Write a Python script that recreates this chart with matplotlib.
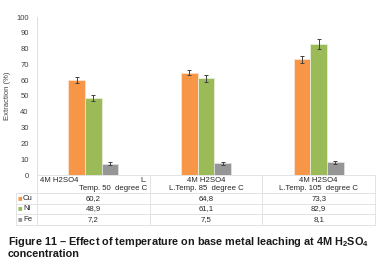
import numpy as np
import matplotlib.pyplot as plt

plt.rcParams['font.family'] = ['Liberation Sans', 'DejaVu Sans']
plt.rcParams['mathtext.fontset'] = 'custom'
plt.rcParams['mathtext.rm'] = 'Liberation Sans:bold'
plt.rcParams['mathtext.bf'] = 'Liberation Sans:bold'

# data
metals = ['Cu', 'Ni', 'Fe']
cat_line1 = ['4M H2SO4', '4M H2SO4', '4M H2SO4']
cat_line2 = ['Temp. 50  degree C', 'L.Temp. 85  degree C', 'L.Temp. 105  degree C']
cu = [60.2, 64.8, 73.3]
ni = [48.9, 61.1, 82.9]
fe = [7.2, 7.5, 8.1]
cu_err = [1.8, 1.8, 2.3]
ni_err = [2.0, 2.3, 3.0]
fe_err = [1.0, 1.0, 1.0]
colors = ['#F79646', '#9BBB59', '#969696']
edges = ['#FBE3D0', '#E6EED8', '#E0E0E0']

W, H = 382, 273
fig = plt.figure(figsize=(W / 100, H / 100), dpi=100)

def fx(px):
    return px / W

def fy(py):
    return 1 - py / H

# plot area in pixels
x0, x1 = 37, 375
ytop, ybot = 17, 175
ax = fig.add_axes([fx(x0), fy(ybot), fx(x1 - x0), (ybot - ytop) / H])

x = np.arange(3)
w = 0.148
for i, (vals, errs) in enumerate([(cu, cu_err), (ni, ni_err), (fe, fe_err)]):
    ax.bar(x + (i - 1) * w, vals, w, color=colors[i], edgecolor=edges[i], linewidth=0.6,
           yerr=errs, error_kw=dict(ecolor='#404040', elinewidth=0.7, capsize=1.6, capthick=0.7))

ax.set_xlim(-0.5, 2.5)
ax.set_ylim(0, 100)
ax.set_yticks(range(0, 101, 10))
ax.set_xticks([])
ax.tick_params(axis='y', length=0, labelsize=5.5, labelcolor='#404040', pad=6)
for s in ['top', 'right', 'bottom']:
    ax.spines[s].set_visible(False)
ax.spines['left'].set_color('#D9D9D9')
ax.spines['left'].set_linewidth(0.6)
ax.set_ylabel('Extraction (%)', fontsize=5.5, color='#404040', labelpad=4)

# table below the axes
lc = '#E3E3E3'
tl = 16
rows_y = [175, 193, 204, 214, 225]
col_x = [x0 + (x1 - x0) * k / 3 for k in range(4)]
for yy in rows_y:
    left = x0 if yy == rows_y[0] else tl
    fig.add_artist(plt.Line2D([fx(left), fx(x1)], [fy(yy), fy(yy)], color=lc, lw=0.7))
for xx in col_x:
    fig.add_artist(plt.Line2D([fx(xx), fx(xx)], [fy(175), fy(225)], color=lc, lw=0.7))
fig.add_artist(plt.Line2D([fx(tl), fx(tl)], [fy(193), fy(225)], color=lc, lw=0.7))

fs = 5.6
tc = '#262626'
# header cells
fig.text(fx(col_x[0] + 3), fy(180), cat_line1[0], fontsize=fs, color=tc, va='center', ha='left')
fig.text(fx(col_x[1] - 3), fy(180), 'L.', fontsize=fs, color=tc, va='center', ha='right')
fig.text(fx(col_x[1] - 3), fy(188), cat_line2[0], fontsize=fs, color=tc, va='center', ha='right')
for k in range(1, 3):
    cx = (col_x[k] + col_x[k + 1]) / 2
    fig.text(fx(cx), fy(180), cat_line1[k], fontsize=fs, color=tc, va='center', ha='center')
    fig.text(fx(cx), fy(188), cat_line2[k], fontsize=fs, color=tc, va='center', ha='center')

# data rows
for r, (name, vals) in enumerate(zip(metals, [cu, ni, fe])):
    yc = (rows_y[r + 1] + rows_y[r + 2]) / 2
    fig.text(fx(18), fy(yc), '■', fontsize=5.5, color=colors[r], va='center', ha='left')
    fig.text(fx(23), fy(yc), name, fontsize=fs, color=tc, va='center', ha='left')
    for k in range(3):
        cx = (col_x[k] + col_x[k + 1]) / 2
        fig.text(fx(cx), fy(yc), f'{vals[k]:.1f}'.replace('.', ','), fontsize=fs, color=tc,
                 va='center', ha='center')

# caption
fig.text(fx(8), fy(242), 'Figure 11 \u2013 Effect of temperature on base metal leaching at 4M H$_2$SO$_4$',
         fontsize=7.8, fontweight='bold', color='#1a1a1a', va='center', ha='left')
fig.text(fx(8), fy(254), 'concentration', fontsize=7.8, fontweight='bold', color='#1a1a1a',
         va='center', ha='left')

fig.savefig('out.png', dpi=100)
